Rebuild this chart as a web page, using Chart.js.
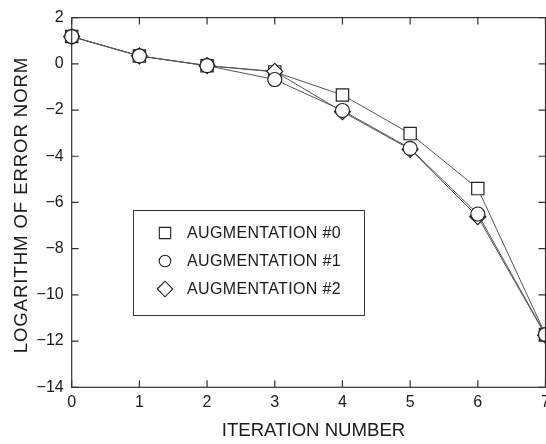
<!DOCTYPE html>
<html>
<head>
<meta charset="utf-8">
<script src="https://cdn.jsdelivr.net/npm/chart.js@4.4.1/dist/chart.umd.min.js"></script>
<style>
  html, body { margin: 0; padding: 0; background: #fff; overflow: hidden; }
  #wrap { width: 546px; height: 444px; overflow: hidden; position: relative; }
  canvas { display: block; }
</style>
</head>
<body>
<div id="wrap"><canvas id="grafico" width="560" height="444"></canvas></div>
<script>
// Dados
const iteracoes = [0, 1, 2, 3, 4, 5, 6, 7];
const aug0 = [1.18, 0.34, -0.08, -0.35, -1.35, -3.02, -5.4, -11.72];
const aug1 = [1.18, 0.34, -0.08, -0.68, -2.02, -3.66, -6.5, -11.72];
const aug2 = [1.18, 0.34, -0.08, -0.33, -2.07, -3.7, -6.62, -11.75];
const rotulos = ['AUGMENTATION #0', 'AUGMENTATION #1', 'AUGMENTATION #2'];
const ticksY = [2, 0, -2, -4, -6, -8, -10, -12, -14];
const tituloX = 'ITERATION NUMBER';
const tituloY = 'LOGARITHM OF ERROR NORM';

const fonte = 'Liberation Sans, Arial, Helvetica, sans-serif';
const corTexto = '#1a1a1a';

function pontos(valores) {
  return iteracoes.map((x, i) => ({ x: x, y: valores[i] }));
}

// Moldura com marcas internas nos quatro lados
const molduraPlugin = {
  id: 'moldura',
  afterDraw(chart) {
    const { ctx, chartArea: a, scales } = chart;
    const tam = 7;
    ctx.save();
    ctx.strokeStyle = '#333';
    ctx.lineWidth = 1.2;
    ctx.strokeRect(a.left, a.top, a.right - a.left, a.bottom - a.top);
    ctx.beginPath();
    scales.x.ticks.forEach(t => {
      const px = scales.x.getPixelForValue(t.value);
      ctx.moveTo(px, a.bottom); ctx.lineTo(px, a.bottom - tam);
      ctx.moveTo(px, a.top); ctx.lineTo(px, a.top + tam);
    });
    scales.y.ticks.forEach(t => {
      const py = scales.y.getPixelForValue(t.value);
      ctx.moveTo(a.left, py); ctx.lineTo(a.left + tam, py);
      ctx.moveTo(a.right, py); ctx.lineTo(a.right - tam, py);
    });
    ctx.stroke();
    ctx.restore();
  }
};

// Titulos dos eixos (o do eixo Y tem espacamento entre letras)
const titulosPlugin = {
  id: 'titulos',
  afterDraw(chart) {
    const ctx = chart.ctx;
    ctx.save();
    ctx.fillStyle = corTexto;
    ctx.font = '18.6px ' + fonte;
    ctx.textAlign = 'center';
    ctx.textBaseline = 'middle';
    ctx.fillText(tituloX, 313.5, 431);
    ctx.translate(22, 205);
    ctx.rotate(-Math.PI / 2);
    ctx.letterSpacing = '0.9px';
    ctx.fillText(tituloY, 0, 0);
    ctx.restore();
  }
};

// Legenda desenhada dentro da area do grafico
const legendaPlugin = {
  id: 'legendaCaixa',
  afterDraw(chart) {
    const ctx = chart.ctx;
    const caixa = { x: 133.5, y: 210.5, w: 231, h: 105 };
    ctx.save();
    ctx.fillStyle = '#fff';
    ctx.fillRect(caixa.x, caixa.y, caixa.w, caixa.h);
    ctx.strokeStyle = '#333';
    ctx.lineWidth = 1;
    ctx.strokeRect(caixa.x, caixa.y, caixa.w, caixa.h);
    const linhasY = [233, 261, 289];
    const raios = [8, 5.8, 7.8];
    chart.data.datasets.forEach((ds, i) => {
      ctx.strokeStyle = '#222';
      ctx.fillStyle = '#fff';
      ctx.lineWidth = 1.1;
      Chart.helpers.drawPoint(ctx, { pointStyle: ds.pointStyle, radius: raios[i], borderWidth: 1.1 }, 165, linhasY[i]);
      ctx.fillStyle = corTexto;
      ctx.font = '16px ' + fonte;
      ctx.letterSpacing = '0.35px';
      ctx.textBaseline = 'middle';
      ctx.textAlign = 'left';
      ctx.fillText(ds.label, 187, linhasY[i] + 1);
      ctx.letterSpacing = '0px';
    });
    ctx.restore();
  }
};

function serie(label, valores, estilo, raio, ordem) {
  return {
    label: label,
    data: pontos(valores),
    borderColor: '#555',
    borderWidth: 1,
    pointStyle: estilo,
    pointRadius: raio,
    pointBackgroundColor: '#fff',
    pointBorderColor: '#222',
    pointBorderWidth: 1.2,
    tension: 0,
    clip: false,
    order: ordem
  };
}

new Chart(document.getElementById('grafico'), {
  type: 'line',
  data: {
    datasets: [
      serie(rotulos[0], aug0, 'rect', 8.7, 3),
      serie(rotulos[1], aug1, 'circle', 7, 1),
      serie(rotulos[2], aug2, 'rectRot', 8, 2)
    ]
  },
  options: {
    responsive: false,
    animation: false,
    layout: { padding: { top: 13.7, right: 14.5, left: 0, bottom: 0 } },
    plugins: { legend: { display: false }, tooltip: { enabled: false } },
    scales: {
      x: {
        type: 'linear',
        min: 0,
        max: 7,
        grid: { display: false, drawTicks: false },
        border: { display: false },
        afterFit(scale) { scale.height = 56.7; },
        ticks: {
          stepSize: 1,
          padding: 5.5,
          color: corTexto,
          font: { family: fonte, size: 16 },
          maxRotation: 0
        }
      },
      y: {
        min: -14,
        max: 2,
        afterFit(scale) { scale.width = 71.7; },
        afterBuildTicks(scale) { scale.ticks = ticksY.map(v => ({ value: v })); },
        grid: { display: false, drawTicks: false },
        border: { display: false },
        ticks: {
          padding: 8,
          color: corTexto,
          font: { family: fonte, size: 16 },
          callback: v => String(v).replace('-', '\u2212')
        }
      }
    }
  },
  plugins: [molduraPlugin, titulosPlugin, legendaPlugin]
});
</script>
</body>
</html>
